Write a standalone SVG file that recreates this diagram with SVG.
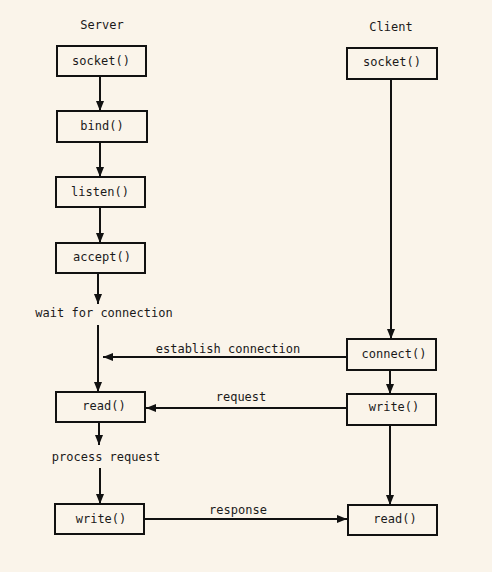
<svg xmlns="http://www.w3.org/2000/svg" width="492" height="572" viewBox="0 0 492 572">
<defs>
<marker id="ah" viewBox="0 0 10 8" refX="10" refY="4" markerWidth="10" markerHeight="8" markerUnits="userSpaceOnUse" orient="auto">
<path d="M0,0 L10,4 L0,8 Z" fill="#111"/>
</marker>
</defs>
<style>
.bx{fill:#faf4ea;stroke:#111;stroke-width:2}
.t{font-family:"DejaVu Sans Mono","Liberation Mono",monospace;font-size:12px;fill:#1a1a1a;text-anchor:middle;dominant-baseline:central}
.c{stroke:#111;stroke-width:2;fill:none}
.a{marker-end:url(#ah)}
</style>
<rect width="492" height="572" fill="#faf4ea"/>
<text class="t" x="102" y="25">Server</text>
<text class="t" x="391" y="27">Client</text>
<g id="connectors">
<line class="c a" x1="100" y1="76" x2="100" y2="111"/>
<line class="c a" x1="100" y1="142" x2="100" y2="177"/>
<line class="c a" x1="100" y1="207" x2="100" y2="243"/>
<line class="c a" x1="98" y1="273" x2="98" y2="304"/>
<text class="t" x="104" y="313">wait for connection</text>
<line class="c a" x1="98" y1="325" x2="98" y2="392"/>
<line class="c a" x1="347" y1="357" x2="103" y2="357"/>
<text class="t" x="228" y="349">establish connection</text>
<line class="c a" x1="391" y1="79" x2="391" y2="339"/>
<line class="c a" x1="390" y1="370" x2="390" y2="394"/>
<line class="c a" x1="347" y1="408" x2="146" y2="408"/>
<text class="t" x="241" y="397">request</text>
<line class="c a" x1="99" y1="422" x2="99" y2="445"/>
<text class="t" x="106" y="457">process request</text>
<line class="c a" x1="100" y1="468" x2="100" y2="504"/>
<line class="c a" x1="144" y1="519" x2="347" y2="519"/>
<text class="t" x="238" y="510">response</text>
<line class="c a" x1="390" y1="425" x2="390" y2="505"/>
</g>
<g id="s_socket"><rect class="bx" x="57" y="46" width="89" height="30"/><text class="t" x="101" y="61">socket()</text></g>
<g id="s_bind"><rect class="bx" x="57" y="111" width="90" height="31"/><text class="t" x="102" y="126">bind()</text></g>
<g id="s_listen"><rect class="bx" x="56" y="177" width="89" height="30"/><text class="t" x="100" y="192">listen()</text></g>
<g id="s_accept"><rect class="bx" x="56" y="243" width="89" height="30"/><text class="t" x="102" y="257">accept()</text></g>
<g id="s_read"><rect class="bx" x="56" y="392" width="89" height="30"/><text class="t" x="104" y="406">read()</text></g>
<g id="s_write"><rect class="bx" x="55" y="504" width="89" height="30"/><text class="t" x="101" y="519">write()</text></g>
<g id="c_socket"><rect class="bx" x="347" y="48" width="90" height="31"/><text class="t" x="392" y="62">socket()</text></g>
<g id="c_connect"><rect class="bx" x="347" y="339" width="89" height="31"/><text class="t" x="394" y="354">connect()</text></g>
<g id="c_write"><rect class="bx" x="347" y="394" width="89" height="31"/><text class="t" x="394" y="407">write()</text></g>
<g id="c_read"><rect class="bx" x="348" y="505" width="89" height="30"/><text class="t" x="395" y="519">read()</text></g>
</svg>
